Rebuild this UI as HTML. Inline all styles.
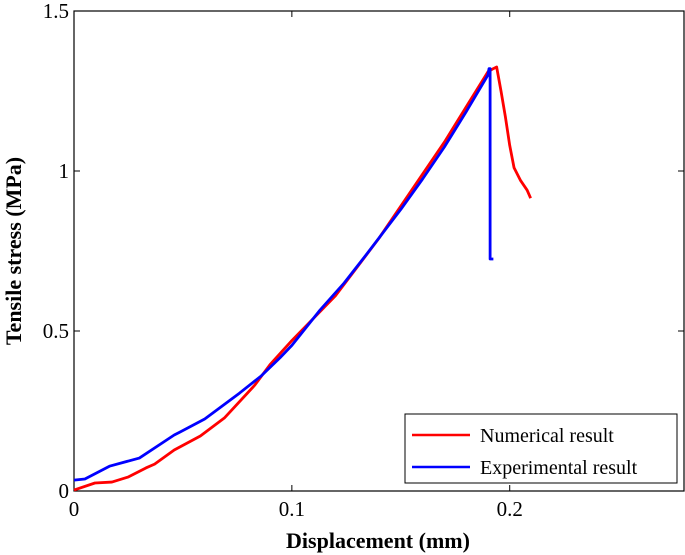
<!DOCTYPE html>
<html><head><meta charset="utf-8"><style>
body{margin:0;background:#fff;}
svg{display:block;font-family:"Liberation Serif",serif;}
</style></head><body>
<svg id="chart" width="685" height="555">
<rect x="0" y="0" width="685" height="555" fill="#fff"/>
<g id="axes"></g>
<g id="series"></g>
<g>
<rect x="405" y="414" width="272" height="69" fill="#fff" stroke="#000" stroke-width="1"/>
<line x1="412" y1="435" x2="470" y2="435" stroke="#ff0000" stroke-width="2.5"/>
<text x="480" y="442" font-size="20">Numerical result</text>
<line x1="412" y1="467" x2="470" y2="467" stroke="#0000ff" stroke-width="2.5"/>
<text x="480" y="474" font-size="20">Experimental result</text>
</g>
<text x="378" y="548" font-size="22" font-weight="bold" text-anchor="middle">Displacement (mm)</text>
<text transform="translate(21,251) rotate(-90)" font-size="22" font-weight="bold" text-anchor="middle">Tensile stress (MPa)</text>
</svg>
<script>
const xTicks=[0,0.1,0.2];
const xTickLabels=["0","0.1","0.2"];
const yTicks=[0,0.5,1,1.5];
const yTickLabels=["0","0.5","1","1.5"];
const numX=[0,0.0096,0.0174,0.025,0.033,0.037,0.046,0.058,0.069,0.083,0.09,0.1,0.11,0.12,0.13,0.14,0.15,0.16,0.17,0.18,0.19,0.1925,0.194,0.196,0.198,0.2,0.202,0.205,0.208,0.2096];
const numY=[0.003,0.025,0.028,0.044,0.072,0.084,0.128,0.172,0.228,0.331,0.395,0.47,0.54,0.61,0.70,0.79,0.89,0.99,1.09,1.2,1.31,1.32,1.325,1.25,1.17,1.08,1.01,0.97,0.94,0.915];
const expX=[0,0.005,0.0165,0.03,0.046,0.0486,0.06,0.076,0.086,0.0945,0.1,0.113,0.124,0.134,0.15,0.16,0.17,0.18,0.19,0.1905,0.191,0.191,0.1925];
const expY=[0.034,0.0375,0.078,0.103,0.175,0.184,0.225,0.306,0.36,0.416,0.455,0.566,0.65,0.737,0.88,0.975,1.075,1.185,1.30,1.32,1.32,0.725,0.725];
const X0=74,X1=684,Y0=491,Y1=11,xMax=0.28,yMax=1.5;
const sx=v=>X0+v/xMax*(X1-X0);
const sy=v=>Y0-v/yMax*(Y0-Y1);
const NS="http://www.w3.org/2000/svg";
const axes=document.getElementById('axes');
function mk(tag,attrs,parent){const e=document.createElementNS(NS,tag);for(const k in attrs)e.setAttribute(k,attrs[k]);parent.appendChild(e);return e;}
const frame=mk('rect',{x:X0,y:Y1,width:X1-X0,height:Y0-Y1,fill:'none',stroke:'#000','stroke-width':1.2},axes);


xTicks.forEach((t,i)=>{
 const x=sx(t);
 mk('line',{x1:x,y1:Y0,x2:x,y2:Y0-6,stroke:'#000'},axes);
 mk('line',{x1:x,y1:Y1,x2:x,y2:Y1+6,stroke:'#000'},axes);
 const lb=mk('text',{x:x,y:Y0+25,'font-size':21,'text-anchor':'middle'},axes);
 lb.textContent=xTickLabels[i];
 
 
});
yTicks.forEach((t,i)=>{
 const y=sy(t);
 mk('line',{x1:X0,y1:y,x2:X0+6,y2:y,stroke:'#000'},axes);
 mk('line',{x1:X1,y1:y,x2:X1-6,y2:y,stroke:'#000'},axes);
 const lb=mk('text',{x:X0-5,y:y+7,'font-size':21,'text-anchor':'end'},axes);
 lb.textContent=yTickLabels[i];
 
 
});
const series=document.getElementById('series');
function line(xs,ys,color,name){
 const p=mk('polyline',{points:xs.map((v,i)=>sx(v)+','+sy(ys[i])).join(' '),fill:'none',stroke:color,'stroke-width':2.8,'stroke-linejoin':'round'},series);
 
 
}
line(numX,numY,'#ff0000','numerical-result-line');
line(expX,expY,'#0000ff','experimental-result-line');
</script>
</body></html>
